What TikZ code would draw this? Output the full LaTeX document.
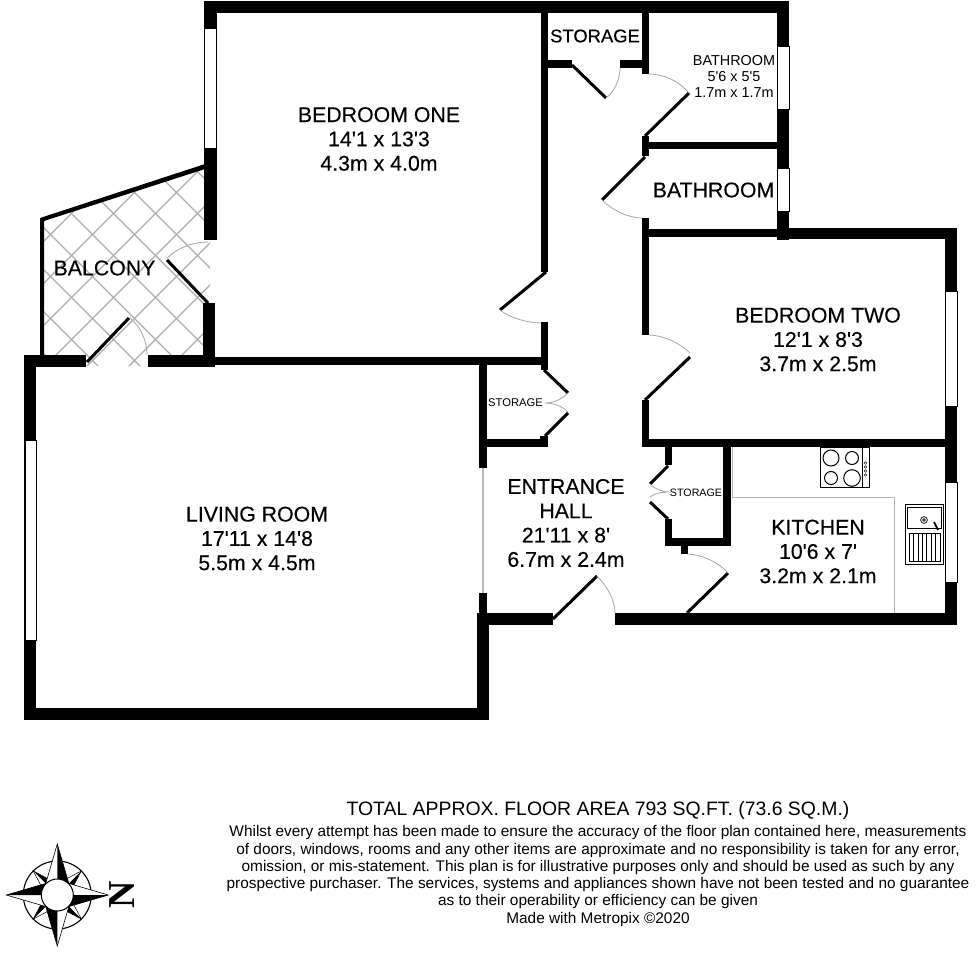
\documentclass[tikz,border=0pt]{standalone}
\usepackage{fontspec}
\setmainfont{Liberation Sans}[Ligatures=TeXOff]
\newfontfamily\labfont{Liberation Sans}[Ligatures=TeXOff,FakeBold=0.25]
\newfontfamily\serifbold{Liberation Serif}
\newcommand{\wl}[4]{\fill[black] (#1,#2) rectangle (#3,#4);}
\newcommand{\winrect}[4]{\draw[black,line width=0.9pt,fill=white] (#1,#2) rectangle (#3,#4);}
\newcommand{\fs}[1]{\fontsize{#1}{#1}\selectfont}
\tikzset{
 leaf/.style={black,line width=3pt},
 swing/.style={gray!70,line width=0.8pt},
 lat/.style={gray!65,line width=1.4pt},
 fit1/.style={black,line width=1pt},
 counter/.style={gray!60,line width=1pt},
 roomtxt/.style={align=center,inner sep=0pt,execute at begin node={\baselineskip=24.3pt}}
}
\begin{document}
\begin{tikzpicture}[x=1pt,y=-1pt]
\useasboundingbox (0,0) rectangle (976,952);
\fill[white] (0,0) rectangle (976,952);
% balcony lattice
\begin{scope}
\clip (44,220) -- (205,168) -- (205,240) -- (210,240) -- (210,303) -- (205,303) -- (205,357) -- (148,357) -- (148,366) -- (86,366) -- (86,357) -- (44,357) -- cycle;
\foreach \k in {-3,...,6}{
 \draw[lat] ({-50},{100+42*\k-50}) -- (300,{100+42*\k+300});
}
\foreach \k in {-3,...,6}{
 \draw[lat] ({-50},{285+42*\k+50}) -- (400,{285+42*\k-400});
}
\end{scope}
% outer and inner walls
\wl{204}{1}{789}{13}
\wl{204}{1}{217}{240}
\wl{203}{303}{215}{367}
\wl{24}{355}{86}{367}
\wl{148}{355}{215}{367}
\wl{215}{357}{548}{365}
\wl{24}{355}{36}{720}
\wl{24}{708}{489}{720}
\wl{479}{360}{487}{468}
\wl{479}{593}{487}{620}
\wl{477}{613}{489}{720}
\wl{477}{613}{553}{625}
\wl{615}{613}{957}{625}
\wl{479}{439}{548}{447}
\wl{540}{436}{548}{447}
\wl{541}{13}{548}{272}
\wl{541}{322}{548}{370}
\wl{548}{60}{572}{68}
\wl{620}{60}{642}{68}
\wl{642}{13}{649}{74}
\wl{642}{136}{649}{156}
\wl{649}{142}{778}{149}
\wl{777}{1}{789}{240}
\wl{642}{218}{649}{335}
\wl{649}{229}{778}{237}
\wl{777}{228}{957}{239}
\wl{945}{228}{957}{625}
\wl{642}{400}{649}{447}
\wl{642}{439}{957}{447}
\wl{665}{447}{672}{465}
\wl{665}{519}{672}{546}
\wl{665}{538}{731}{546}
\wl{723}{447}{731}{546}
\wl{681}{546}{688}{554}
% balcony thin walls
\fill[black] (40,218) -- (205,164) -- (205,169) -- (44,221) -- (44,357) -- (40,357) -- cycle;
% windows
\winrect{204.5}{28}{216}{148}
\winrect{25}{440}{36}{640}
\winrect{777.5}{46}{789}{109}
\winrect{777.5}{168}{789}{211}
\winrect{945}{291}{957}{406}
\winrect{945}{482}{957}{582}
% open partition
\draw[gray!55,line width=1.4pt] (483,468) -- (483,593);
% door leaves
\draw[leaf] (167,260) -- (208,303);
\draw[leaf] (87,362) -- (129,318);
\draw[leaf] (572,65) -- (606,98);
\draw[leaf] (645,136) -- (689,93);
\draw[leaf] (645,157) -- (602,200);
\draw[leaf] (546,272) -- (500,310);
\draw[leaf] (645,400) -- (690,357);
\draw[leaf] (544,370) -- (568,393);
\draw[leaf] (568,413) -- (545,436);
\draw[leaf] (668,466) -- (650,484);
\draw[leaf] (650,502) -- (668,519);
\draw[leaf] (553,619) -- (597,576);
\draw[leaf] (728,573) -- (687,613);
% door swings
\draw[swing] (167,258) .. controls (180,246) and (195,242) .. (208,242);
\draw[swing] (130,318) .. controls (140,326) and (147,340) .. (147,355);
\draw[swing] (606,98) .. controls (614,92) and (620,80) .. (620,68);
\draw[swing] (648,74) .. controls (663,74) and (678,80) .. (689,93);
\draw[swing] (602,200) .. controls (612,210) and (628,218) .. (642,218);
\draw[swing] (500,310) .. controls (510,318) and (528,323) .. (541,323);
\draw[swing] (690,353) .. controls (680,343) and (662,335) .. (649,335);
\draw[swing] (568,393) .. controls (563,398) and (555,403) .. (545,403) .. controls (555,403) and (563,407) .. (568,412);
\draw[swing] (650,484) .. controls (655,489) and (662,492) .. (670,492) .. controls (662,492) and (655,493) .. (650,497);
\draw[swing] (597,576) .. controls (607,586) and (615,600) .. (615,613);
\draw[swing] (688,554) .. controls (703,555) and (718,562) .. (728,573);
% kitchen fittings
\draw[counter] (732,447) -- (732,497) -- (894,497) -- (894,613);
\draw[fit1,fill=white] (820,447) rectangle (869,487);
\draw[black,line width=0.6pt] (862,447) -- (862,487);
\foreach \px/\py/\r in {831/458/8,852/458/6.5,831/478/6.5,852/478/8.3}{\draw[fit1] (\px,\py) circle[radius=\r];}
\foreach \py in {463,467,471,475}{\draw[black,line width=0.4pt] (865.5,\py) circle[radius=1.3];}
\draw[fit1,fill=white] (905,504) rectangle (943,564);
\draw[black,line width=0.5pt] (907,507) rectangle (941,528);
\draw[black,line width=0.7pt] (924,520) circle[radius=3.4];
\draw[black,line width=0.7pt] (924,520) circle[radius=1.3];
\draw[black,line width=1.8pt] (934,522) -- (938,530);
\draw[black,line width=0.5pt] (909,533) -- (909,561) -- (940,561) -- (940,533) -- cycle;
\foreach \px in {913.4,917.8,922.2,926.6,931,935.4}{\draw[black,line width=0.6pt] (\px,533) -- (\px,561);}
% room labels
\node[roomtxt,font=\fs{21.3}\labfont] (bedone) at (379,139) {BEDROOM ONE\\14'1 x 13'3\\4.3m x 4.0m};
\node[roomtxt,font=\fs{21.3}\labfont] (bedtwo) at (818,339.5) {BEDROOM TWO\\12'1 x 8'3\\3.7m x 2.5m};
\node[roomtxt,font=\fs{21.3}\labfont] (living) at (257,538.5) {LIVING ROOM\\17'11 x 14'8\\5.5m x 4.5m};
\node[roomtxt,font=\fs{21.3}\labfont] (hall) at (566,523) {ENTRANCE\\HALL\\21'11 x 8'\\6.7m x 2.4m};
\node[roomtxt,font=\fs{21.3}\labfont] (kitchen) at (818,551.5) {KITCHEN\\10'6 x 7'\\3.2m x 2.1m};
\node[inner sep=0pt,font=\fs{21.3}\labfont] (balcony) at (104.5,268) {BALCONY};
\node[inner sep=0pt,font=\fs{21.3}\labfont] (bath2) at (713.5,190) {BATHROOM};
\node[inner sep=0pt,font=\fs{18.4}\labfont] (stor1) at (595,36) {STORAGE};
\node[roomtxt,font=\fs{14.4},execute at begin node={\baselineskip=16pt}] (bath1) at (734,76) {BATHROOM\\5'6 x 5'5\\1.7m x 1.7m};
\node[inner sep=0pt,font=\fs{11.2}] (stor2) at (515.5,403) {STORAGE};
\node[inner sep=0pt,font=\fs{10.7}] (stor3) at (696,492.5) {STORAGE};
% footer
\node[inner sep=0pt,font=\fs{19.4}] (total) at (598,810) {TOTAL APPROX. FLOOR AREA 793 SQ.FT. (73.6 SQ.M.)};
\node[roomtxt,font=\fs{15.4},execute at begin node={\baselineskip=17.3pt}] (disc) at (598,876) {Whilst every attempt has been made to ensure the accuracy of the floor plan contained here, measurements\\of doors, windows, rooms and any other items are approximate and no responsibility is taken for any error,\\omission, or mis-statement. This plan is for illustrative purposes only and should be used as such by any\\prospective purchaser. The services, systems and appliances shown have not been tested and no guarantee\\as to their operability or efficiency can be given\\Made with Metropix \textcopyright 2020};
% compass
\begin{scope}[shift={(57.3,895)}]
\draw[black,line width=1.1pt] (0,0) circle[radius=34];
\foreach \a in {45,135,225,315}{
 \begin{scope}[rotate=\a]
  \fill[white] (-8,-8) -- (0,-34) -- (8,-8) -- cycle;
  \draw[black,line width=0.5pt] (-8,-8) -- (0,-34) -- (8,-8);
  \fill[black] (0,-34) -- (8,-8) -- (0,-8) -- cycle;
 \end{scope}
}
\foreach \a in {0,90,180,270}{
 \begin{scope}[rotate=\a]
  \fill[white] (-12,-10) -- (0,-51) -- (12,-10) -- cycle;
  \draw[black,line width=0.6pt] (-12,-10) -- (0,-51) -- (12,-10);
  \fill[black] (0,-51) -- (12,-10) -- (0,-10) -- cycle;
 \end{scope}
}
\draw[black,line width=1pt,fill=white] (0,0) circle[radius=16];
\end{scope}
\node[inner sep=0pt,rotate=90,font=\fs{38}\serifbold\bfseries] (north) at (122,894.5) {N};
\end{tikzpicture}
\end{document}
